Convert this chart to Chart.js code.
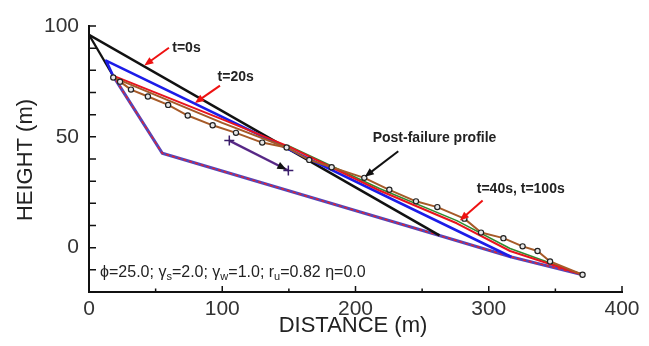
<!DOCTYPE html>
<html>
<head>
<meta charset="utf-8">
<script src="https://cdn.jsdelivr.net/npm/chart.js@4.4.1/dist/chart.umd.min.js"></script>
<style>
  html, body { margin: 0; padding: 0; background: #fff; }
  #wrap { width: 649px; height: 346px; position: relative; }
</style>
</head>
<body>
<div id="wrap"><canvas id="slope"></canvas></div>
<script>
/* ===============================
   DATA (metres)
================================ */
const xTicks = [0, 100, 200, 300, 400];
const yTicks = [0, 50, 100];

// initial profile, t=0s
const t0X = [0, 263];
const t0Y = [96, 5.5];
// head scarp
const scarpX = [0, 18];
const scarpY = [96, 77.6];
// t=20s
const t20X = [18, 12.8, 317];
const t20Y = [77.6, 84.4, -4.2];
// failure surface
const failX = [18, 55, 263, 317, 370.5];
const failY = [77.6, 42.6, 5.5, -4.2, -12.2];
// t=40s
const t40X = [18, 102, 150, 218, 276, 316, 370.5];
const t40Y = [77.6, 57.4, 45.6, 25.8, 11, -1.5, -12.2];
// t=100s
const t100X = [150, 218, 276, 316, 370.5];
const t100Y = [45.9, 26.7, 12.2, -0.4, -12.2];
// upper branch of post-failure trace
const upperX = [18.2, 100, 148.3];
const upperY = [76.8, 56.3, 45.2];
// post-failure profile (measured, circles)
const postX = [18.2, 23.3, 31.5, 44.2, 59.4, 74.1, 92.8, 110.3, 130, 148.3, 165.3, 182.1,
               206.6, 225.4, 245.4, 261.4, 281.7, 294.2, 311, 325.4, 336.6, 346, 370.4];
const postY = [76.8, 74.9, 71.3, 68.2, 64.4, 59.6, 55.2, 51.8, 47.4, 45.2, 39.6, 36.3,
               31.5, 26.1, 20.9, 18.3, 13.1, 6.8, 4.3, 0.6, -1.5, -6.2, -12.2];
// displacement vector
const dispX = [105.3, 149.6];
const dispY = [48.3, 34.8];

// callouts: text anchor, arrow tail, arrow tip
const callouts = [
  { text: "t=0s",          at: [62.5, 90.2],  from: [60, 90.2],   to: [41.5, 82.2], color: "#ee1111" },
  { text: "t=20s",         at: [96.5, 77.1],  from: [98.3, 73.1], to: [79.5, 65.3], color: "#ee1111" },
  { text: "Post-failure profile", at: [212.9, 49.5], from: [232.1, 43.5], to: [207, 32], color: "#111" },
  { text: "t=40s, t=100s", at: [291, 26.6],   from: [295.4, 21.3], to: [278.3, 12.3], color: "#ee1111" }
];
const paramParts = [["ϕ=25.0; γ", 0], ["s", 1], ["=2.0; γ", 0], ["w", 1], ["=1.0; r", 0], ["u", 1], ["=0.82 η=0.0", 0]];
const paramAt = [8.3, -10.7];

const FONT = "'Liberation Sans', Arial, sans-serif";

function pts(xs, ys) {
  return xs.map((x, i) => ({ x: x, y: ys[i] }));
}

function line(data, color, width, order, extra) {
  return Object.assign({
    data: data,
    showLine: true,
    borderColor: color,
    backgroundColor: color,
    borderWidth: width,
    pointRadius: 0,
    tension: 0,
    fill: false,
    borderJoinStyle: "round",
    order: order
  }, extra || {});
}

/* ===============================
   DRAWING HELPERS
================================ */
function arrow(ctx, x1, y1, x2, y2, color, head, width) {
  const a = Math.atan2(y2 - y1, x2 - x1);
  const c = Math.cos(a), s = Math.sin(a);
  ctx.strokeStyle = color;
  ctx.fillStyle = color;
  ctx.lineWidth = width;
  ctx.beginPath();
  ctx.moveTo(x1, y1);
  ctx.lineTo(x2 - c * head * 0.8, y2 - s * head * 0.8);
  ctx.stroke();
  ctx.beginPath();
  ctx.moveTo(x2, y2);
  ctx.lineTo(x2 - head * c + head * 0.42 * s, y2 - head * s - head * 0.42 * c);
  ctx.lineTo(x2 - head * c - head * 0.42 * s, y2 - head * s + head * 0.42 * c);
  ctx.closePath();
  ctx.fill();
}

const decorations = {
  id: "decorations",
  afterDraw(chart) {
    const ctx = chart.ctx;
    const x = chart.scales.x, y = chart.scales.y;
    const x0 = x.getPixelForValue(0), y0 = y.getPixelForValue(-20);
    ctx.save();

    // inward ticks
    ctx.strokeStyle = "#111";
    ctx.lineWidth = 1.5;
    ctx.beginPath();
    for (let v = -20; v <= 100; v += 10) {
      const py = y.getPixelForValue(v);
      ctx.moveTo(x0, py);
      ctx.lineTo(x0 + 7, py);
    }
    for (let v = 50; v <= 400; v += 50) {
      const px = x.getPixelForValue(v);
      ctx.moveTo(px, y0);
      ctx.lineTo(px, y0 - (v % 100 === 0 ? 6 : 3.5));
    }
    ctx.stroke();

    // displacement arrow head
    const n = dispX.length;
    arrow(ctx,
      x.getPixelForValue(dispX[n - 2]), y.getPixelForValue(dispY[n - 2]),
      x.getPixelForValue(dispX[n - 1]) - 2, y.getPixelForValue(dispY[n - 1]) - 1,
      "#111", 9, 0.1);

    // callouts
    callouts.forEach(c => {
      arrow(ctx,
        x.getPixelForValue(c.from[0]), y.getPixelForValue(c.from[1]),
        x.getPixelForValue(c.to[0]), y.getPixelForValue(c.to[1]),
        c.color, 9, 2);
      ctx.fillStyle = "#222";
      ctx.font = "bold 14px " + FONT;
      ctx.textAlign = "left";
      ctx.textBaseline = "middle";
      ctx.fillText(c.text, x.getPixelForValue(c.at[0]), y.getPixelForValue(c.at[1]));
    });

    // parameter line with subscripts
    let px = x.getPixelForValue(paramAt[0]);
    const base = y.getPixelForValue(paramAt[1]) + 5.5;
    ctx.fillStyle = "#222";
    ctx.textBaseline = "alphabetic";
    paramParts.forEach(p => {
      ctx.font = (p[1] ? "11px " : "16px ") + FONT;
      ctx.fillText(p[0], px, base + (p[1] ? 3.5 : 0));
      px += ctx.measureText(p[0]).width;
    });

    // axis titles
    ctx.fillStyle = "#222";
    ctx.font = "22px " + FONT;
    ctx.textAlign = "center";
    ctx.textBaseline = "middle";
    ctx.fillText("DISTANCE (m)", 353, 326);
    ctx.translate(26, 160);
    ctx.rotate(-Math.PI / 2);
    ctx.fillText("HEIGHT (m)", 0, 0);

    ctx.restore();
  }
};

/* ===============================
   CHART
================================ */
new Chart(document.getElementById("slope"), {
  type: "scatter",
  data: {
    datasets: [
      line(pts(failX, failY), "#5546b8", 3.2, 10),
      line(pts(failX, failY), "#e8202a", 1.4, 9, { borderDash: [3, 3] }),
      line(pts(t0X, t0Y), "#111111", 2.6, 8),
      line(pts(scarpX, scarpY), "#111111", 2.2, 8),
      line(pts(t20X, t20Y), "#1c1ce8", 2.6, 7),
      line(pts(t100X, t100Y), "#2e8b2e", 1.6, 6),
      line(pts(t40X, t40Y), "#e8141e", 2, 5),
      line(pts(upperX, upperY), "#a65a28", 2, 4),
      line(pts(postX, postY), "#a65a28", 2, 3, {
        pointRadius: 2.6,
        pointBorderColor: "#222",
        pointBackgroundColor: "#e6e6e6",
        pointBorderWidth: 1.2
      }),
      line(pts(dispX, dispY), "#5b2a8c", 2.4, 2, {
        pointRadius: 5,
        pointStyle: "cross",
        pointBorderColor: "#3a1d6b",
        pointBorderWidth: 1.5
      })
    ]
  },
  options: {
    responsive: true,
    maintainAspectRatio: false,
    animation: false,
    layout: { padding: { top: 26, right: 27, left: 0, bottom: 0 } },
    plugins: { legend: { display: false }, tooltip: { enabled: false } },
    scales: {
      x: {
        type: "linear",
        min: 0,
        max: 400,
        afterBuildTicks: s => { s.ticks = xTicks.map(v => ({ value: v })); },
        afterFit: s => { s.height = 54; },
        grid: { display: false, drawTicks: false },
        border: { display: true, color: "#111", width: 2 },
        ticks: { color: "#333", padding: 5, font: { size: 21, family: FONT } }
      },
      y: {
        type: "linear",
        min: -20,
        max: 100,
        afterBuildTicks: s => { s.ticks = yTicks.map(v => ({ value: v })); },
        afterFit: s => { s.width = 89; },
        grid: { display: false, drawTicks: false },
        border: { display: true, color: "#111", width: 2 },
        ticks: { color: "#333", padding: 10, font: { size: 21, family: FONT } }
      }
    }
  },
  plugins: [decorations]
});
</script>
</body>
</html>
